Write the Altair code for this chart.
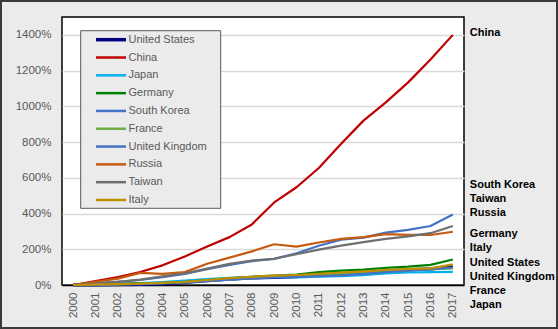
import altair as alt
import pandas as pd

years = [str(y) for y in range(2000, 2018)]

countries = ["United States", "China", "Japan", "Germany", "South Korea",
             "France", "United Kingdom", "Russia", "Taiwan", "Italy"]
colors = ["#000080", "#c00000", "#00b0f0", "#008000", "#4472c4",
          "#70ad47", "#4472c4", "#c55a11", "#6f6f6f", "#bf9000"]

us      = [0, 1, 2, 4, 8, 14, 24, 33, 40, 42, 47, 55, 60, 67, 78, 85, 90, 103]
china   = [0, 22, 45, 73, 110, 160, 216, 268, 339, 462, 547, 655, 790, 920, 1022, 1134, 1262, 1400]
japan   = [0, 3, 6, 10, 16, 25, 33, 40, 46, 45, 43, 47, 49, 55, 65, 70, 72, 73]
germany = [0, 3, 6, 9, 12, 17, 28, 37, 46, 52, 58, 72, 80, 86, 96, 103, 113, 143]
skorea  = [0, 10, 18, 28, 44, 62, 88, 112, 133, 146, 178, 220, 254, 265, 293, 309, 330, 395]
france  = [0, 2, 4, 7, 10, 15, 24, 32, 38, 45, 52, 58, 64, 70, 78, 83, 88, 93]
uk      = [0, 1, 3, 5, 9, 14, 22, 30, 37, 42, 45, 50, 54, 62, 72, 80, 87, 98]
russia  = [0, 17, 36, 68, 62, 72, 119, 153, 188, 228, 215, 238, 258, 268, 285, 280, 280, 298]
taiwan  = [0, 8, 18, 30, 48, 65, 92, 118, 137, 147, 172, 198, 220, 240, 258, 272, 290, 330]
italy   = [0, 2, 5, 8, 12, 18, 28, 38, 46, 52, 56, 62, 70, 76, 85, 90, 93, 115]

series = [us, china, japan, germany, skorea, france, uk, russia, taiwan, italy]

y_ticks = [0, 200, 400, 600, 800, 1000, 1200, 1400]

# right-hand annotation labels (text, vertical position in % units)
end_labels = ["China", "South Korea", "Taiwan", "Russia", "Germany", "Italy",
              "United States", "United Kingdom", "France", "Japan"]
end_label_pos = [1410, 561, 483, 402, 285, 205, 125, 47, -31, -112]

rows = []
for c, vals in zip(countries, series):
    for y, v in zip(years, vals):
        rows.append({"country": c, "year": y, "value": v})
df = pd.DataFrame(rows)
lab_df = pd.DataFrame({"label": end_labels, "pos": end_label_pos, "year": "2017"})
leg_df = pd.DataFrame({"country": countries, "rank": list(range(len(countries))),
                       "w": [3.5 if c == "United States" else 2.5 for c in countries]})
one = pd.DataFrame({"k": [0]})

FONT = "Liberation Sans"
GRAY = "#595959"

color_scale = alt.Scale(domain=countries, range=colors)
x_scale = alt.Scale(type="point", padding=0.5)
y_scale = alt.Scale(domain=[0, 1500], nice=False)

x_axis = alt.Axis(title=None, labelAngle=270, labelColor=GRAY, labelFontSize=11.5,
                  labelFont=FONT, ticks=False, labelPadding=7,
                  domainColor="#000000", domainWidth=1.5, grid=False)
y_axis = alt.Axis(title=None, values=y_ticks,
                  labelExpr="datum.value + '%'", labelColor=GRAY,
                  labelFontSize=11.5, labelFont=FONT, ticks=False,
                  labelPadding=11, domain=False, grid=True, gridColor="#d9d9d9",
                  gridWidth=1.5, labelOverlap=False)

lines = alt.Chart(df).mark_line(strokeJoin="round").encode(
    x=alt.X("year:O", scale=x_scale, axis=x_axis),
    y=alt.Y("value:Q", scale=y_scale, axis=y_axis),
    color=alt.Color("country:N", scale=color_scale, legend=None),
    strokeWidth=alt.condition(alt.datum.country == "United States",
                              alt.value(3.2), alt.value(2.2)),
    detail="country:N",
)

labels = alt.Chart(lab_df).mark_text(align="left", baseline="middle", dx=17,
                                     font=FONT, fontSize=11, fontWeight="bold",
                                     color="#000000").encode(
    x=alt.X("year:O", scale=x_scale, axis=x_axis),
    y=alt.Y("pos:Q", scale=y_scale, axis=y_axis),
    text="label:N",
)

# manual legend
leg_box = alt.Chart(one).mark_rect(
    fill="#ebebeb", stroke=GRAY, strokeWidth=1).encode(
    x=alt.value(18.7), x2=alt.value(158.7), y=alt.value(13.7), y2=alt.value(191.3),
)
leg_off = alt.YOffset("rank:Q", scale=alt.Scale(domain=[0, 9], range=[0, 160.3]))
leg_sym = alt.Chart(leg_df).mark_rule().encode(
    x=alt.value(34), x2=alt.value(64), y=alt.value(22.7), yOffset=leg_off,
    color=alt.Color("country:N", scale=color_scale, legend=None),
    strokeWidth=alt.StrokeWidth("w:Q", scale=None, legend=None),
)
leg_txt = alt.Chart(leg_df).mark_text(align="left", baseline="middle", font=FONT,
                                      fontSize=11, color=GRAY).encode(
    x=alt.value(66.5), y=alt.value(22.7), yOffset=leg_off, text="country:N",
)

frame = alt.Chart(one).mark_rect(
    fillOpacity=0, stroke="#3a3a3a", strokeWidth=2).encode(
    x=alt.value(-61), x2=alt.value(495), y=alt.value(-16), y2=alt.value(311),
)

chart = alt.layer(lines, labels, leg_box, leg_sym, leg_txt, frame).properties(
    width=402, height=268,
    padding={"left": 62, "top": 17, "right": 94, "bottom": 44},
    autosize=alt.AutoSizeParams(type="none"),
    background="#ebebeb",
).configure_view(
    fill="#ffffff", stroke="#000000", strokeWidth=1.5
)

chart.save("out.html", embed_options={"renderer": "svg", "actions": False})
